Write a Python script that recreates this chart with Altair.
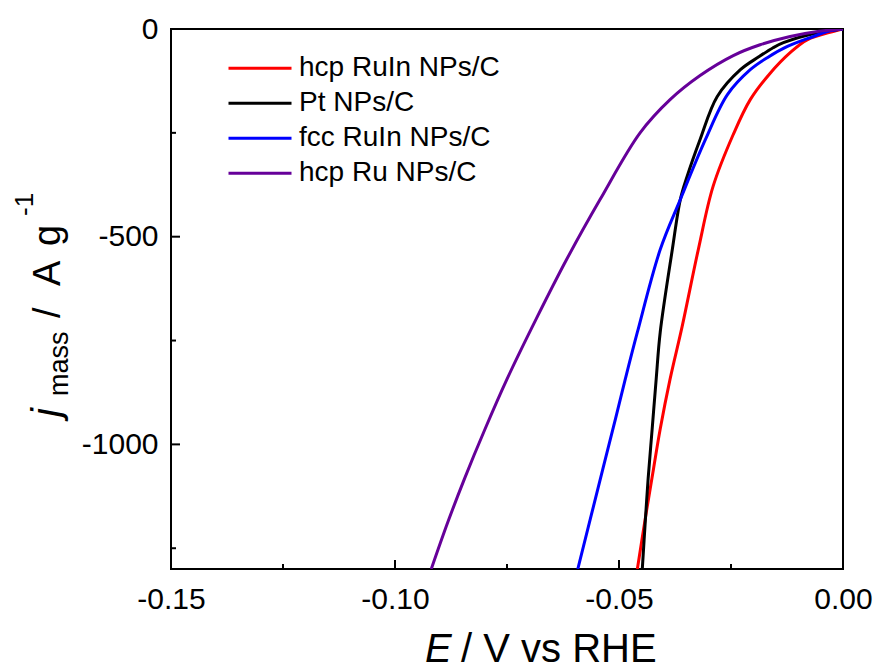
import altair as alt
import pandas as pd

# ---- data ----
series_names = ["hcp RuIn NPs/C", "Pt NPs/C", "fcc RuIn NPs/C", "hcp Ru NPs/C"]
series_colors = ["#ff0000", "#000000", "#0000ff", "#660099"]

red_E = [0, -0.0022, -0.0080, -0.0118, -0.0163, -0.0207, -0.0245, -0.0290, -0.0323,
         -0.0359, -0.0386, -0.0408, -0.0423, -0.0439, -0.0459]
red_j = [0, -6, -26, -57, -107, -170, -254, -379, -531, -716, -843, -963, -1059, -1163, -1300]

black_E = [0, -0.0057, -0.0133, -0.0156, -0.0188, -0.0229, -0.0281, -0.0319, -0.0348,
           -0.0363, -0.0381, -0.0408, -0.0417, -0.0426, -0.0435, -0.0441, -0.0448]
black_j = [0, -9, -33, -45, -67, -98, -163, -266, -355, -410, -531, -730, -843, -963,
           -1083, -1180, -1300]

blue_E = [0, -0.0035, -0.0066, -0.0124, -0.0169, -0.0207, -0.0258, -0.0307, -0.0363,
          -0.0408, -0.0459, -0.0486, -0.0508, -0.0536, -0.0592]
blue_j = [0, -6, -18, -42, -69, -98, -158, -266, -410, -531, -730, -843, -939, -1059, -1300]

purple_E = [0, -0.0057, -0.0118, -0.0185, -0.0245, -0.0319, -0.0386, -0.0453, -0.0542,
            -0.0617, -0.0682, -0.0750, -0.0799, -0.0845, -0.0882, -0.0919]
purple_j = [0, -6, -18, -38, -64, -112, -170, -250, -410, -555, -692, -843, -963, -1083,
            -1187, -1300]

x_major = [-0.15, -0.10, -0.05, 0.0]
x_minor = [-0.125, -0.075, -0.025]
y_major = [0, -500, -1000]
y_minor = [-250, -750, -1250]

x_title_italic = "E"
x_title_rest = "/ V vs RHE"
y_title_parts = ["j", "mass", "/", "A", "g", "-1"]

rows = []
for name, Es, js in zip(series_names, [red_E, black_E, blue_E, purple_E],
                        [red_j, black_j, blue_j, purple_j]):
    for i, (e, j) in enumerate(zip(Es, js)):
        rows.append({"E": e, "j": j, "sample": name, "idx": i})
df = pd.DataFrame(rows)

W, H = 672, 540
FONT = "Liberation Sans"

xscale = alt.Scale(domain=[-0.15, 0.0], nice=False, zero=False)
yscale = alt.Scale(domain=[-1300, 0], nice=False, zero=False)

x_axis = alt.Axis(values=x_major, tickSize=0, labelFlush=False, labelFontSize=30,
                  labelPadding=15, labelFont=FONT, labelColor="black", domain=False,
                  grid=False, title=None, labelOverlap=False,
                  labelExpr="replace(format(datum.value, '.2f'), '\u2212', '-')")
y_axis = alt.Axis(values=y_major, tickSize=0, labelFlush=False, labelFontSize=30,
                  labelPadding=13, labelFont=FONT, labelColor="black", domain=False,
                  grid=False, title=None, labelOverlap=False,
                  labelExpr="replace(format(datum.value, 'd'), '\u2212', '-')")

lines = alt.Chart(df).mark_line(strokeWidth=3, clip=True, interpolate="catmull-rom").encode(
    x=alt.X("E:Q", scale=xscale, axis=x_axis),
    y=alt.Y("j:Q", scale=yscale, axis=y_axis),
    order="idx:Q",
    color=alt.Color("sample:N",
                    scale=alt.Scale(domain=series_names, range=series_colors),
                    legend=alt.Legend(title=None, orient="none", legendX=56, legendY=22,
                                      symbolType="stroke", symbolSize=3969,
                                      symbolStrokeWidth=3, labelFontSize=28,
                                      labelFont=FONT, labelColor="black", labelOffset=6,
                                      clipHeight=34.5, rowPadding=0, padding=0,
                                      labelLimit=400)),
)

def xticks(vals, length):
    return alt.Chart(pd.DataFrame({"E": vals})).mark_rule(color="black", strokeWidth=2).encode(
        x=alt.X("E:Q", scale=xscale, axis=x_axis),
        y=alt.value(H), y2=alt.value(H - length))

def yticks(vals, length):
    return alt.Chart(pd.DataFrame({"j": vals})).mark_rule(color="black", strokeWidth=2).encode(
        y=alt.Y("j:Q", scale=yscale, axis=y_axis),
        x=alt.value(0), x2=alt.value(length))

one = alt.Data(values=[{"k": 1}])

def txt(t, x, y, size, italic=False, angle=0):
    kw = dict(text=t, fontSize=size, font=FONT, color="black", align="left",
              baseline="alphabetic")
    if italic:
        kw["fontStyle"] = "italic"
    if angle:
        kw["angle"] = angle
    return alt.Chart(one).mark_text(**kw).encode(x=alt.value(x), y=alt.value(y))

titles = [
    txt(x_title_italic, 254, 633, 40, italic=True),
    txt(x_title_rest, 290, 633, 40),
    txt(y_title_parts[0], -111, 388, 40, italic=True, angle=270),
    txt(y_title_parts[1], -103, 367, 27, angle=270),
    txt(y_title_parts[2], -111, 289, 38, angle=270),
    txt(y_title_parts[3], -111, 257, 38, angle=270),
    txt(y_title_parts[4], -111, 217, 38, angle=270),
    txt(y_title_parts[5], -138, 187, 26, angle=270),
]

chart = alt.layer(
    lines,
    xticks(x_major, 9), xticks(x_minor, 5),
    yticks(y_major, 9), yticks(y_minor, 5),
    *titles,
).properties(
    width=W, height=H,
    autosize=alt.AutoSizeParams(type="none"),
    padding={"left": 171, "top": 29, "right": 37, "bottom": 100},
    background="white",
).configure_view(stroke="black", strokeWidth=2)

chart.save("out.html", embed_options={"renderer": "svg", "actions": False})
